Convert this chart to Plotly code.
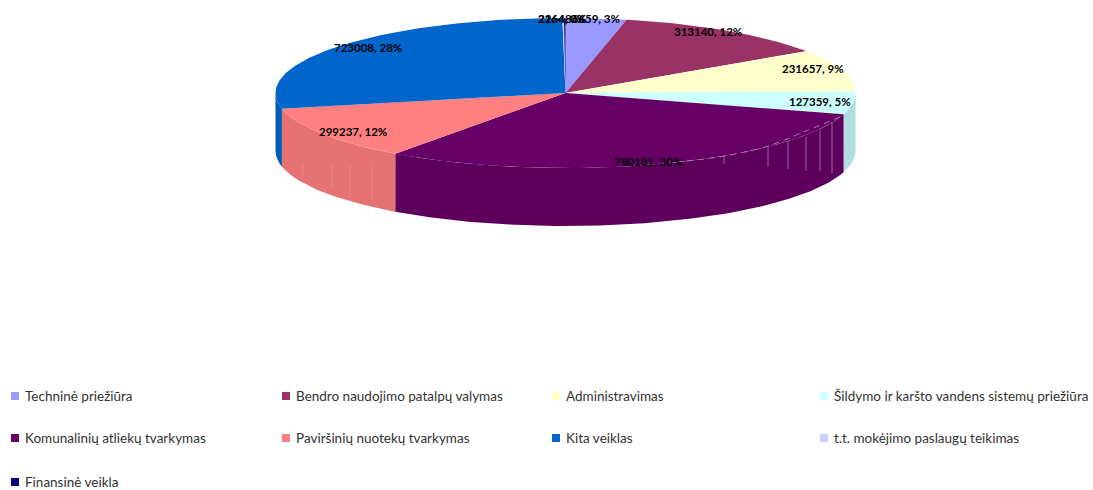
import math
import plotly.graph_objects as go

categories = ["Techninė priežiūra", "Bendro naudojimo patalpų valymas", "Administravimas",
              "Šildymo ir karšto vandens sistemų priežiūra", "Komunalinių atliekų tvarkymas",
              "Paviršinių nuotekų tvarkymas", "Kita veiklas", "t.t. mokėjimo paslaugų teikimas",
              "Finansinė veikla"]
values = [86659, 313140, 231657, 127359, 780181, 299237, 723008, 2264, 2164]
percent_labels = [3, 12, 9, 5, 30, 12, 28, 0, 0]
top_colors = ["#9999ff", "#993366", "#ffffcc", "#ccffff", "#660066", "#ff8080", "#0066cc", "#ccccff", "#000080"]
side_colors = ["#8a8ae6", "#8a2e5c", "#e6e6b8", "#b0dede", "#5c005c", "#e57373", "#005cb8", "#b8b8e6", "#000073"]

# layout (pixels of the 1093x490 page)
CX, CY, RX, RY, DEPTH = 565.5, 93, 290, 75, 58
label_xy = [(592, 18), (708, 31), (813, 68), (820, 101), (648, 161), (353, 131), (368, 47), (562, 18), (562, 18)]
legend_col = [11, 282, 552, 820]
legend_row = [396, 438, 482]
leader_xy = [(687, 161), (725, 156), (768, 146), (806, 131), (840, 117)]
leader_ticks = [(724, 156, 164), (768, 147, 167), (788, 141, 169), (806, 137, 171), (820, 130, 171), (832, 122, 173)]
wall_ticks = [(303, 165, 177), (332, 165, 188), (350, 165, 197), (372, 162, 200)]

def pt(deg, dy=0):
    r = math.radians(deg)
    return CX + RX * math.sin(r), CY - RY * math.cos(r) + dy

def arc(a, b, dy=0):
    n = max(2, int(abs(b - a)) + 2)
    return [pt(a + (b - a) * i / (n - 1), dy) for i in range(n)]

fig = go.Figure()
total = sum(values)
edges = [0.0]
for v in values:
    edges.append(edges[-1] + v / total * 360)

# side walls (front half of the ellipse only)
for i, c in enumerate(categories):
    a, b = max(edges[i], 90), min(edges[i + 1], 270)
    if b <= a:
        continue
    pts = arc(a, b) + arc(b, a, DEPTH)
    fig.add_trace(go.Scatter(x=[p[0] for p in pts], y=[p[1] for p in pts], mode="lines", fill="toself",
                             fillcolor=side_colors[i], line=dict(width=0), hoverinfo="skip", showlegend=False))
# top faces
for i, c in enumerate(categories):
    pts = [(CX, CY)] + arc(edges[i], edges[i + 1]) + [(CX, CY)]
    fig.add_trace(go.Scatter(x=[p[0] for p in pts], y=[p[1] for p in pts], mode="lines", fill="toself",
                             fillcolor=top_colors[i], line=dict(width=0), name=c, showlegend=False,
                             hoveron="fills", text=f"{c}: {values[i]}", hoverinfo="text"))

# faint leader line and ticks over the large slice
fig.add_trace(go.Scatter(x=[p[0] for p in leader_xy], y=[p[1] for p in leader_xy], mode="lines",
                         line=dict(color="#a07aa0", width=1, dash="6px,5px", shape="spline"),
                         hoverinfo="skip", showlegend=False))

annotations = []
shapes = []
for x, y0, y1 in leader_ticks:
    shapes.append(dict(type="line", xref="x", yref="y", x0=x, x1=x, y0=y0, y1=y1,
                       line=dict(color="#8f6a8f", width=1)))
for x, y0, y1 in wall_ticks:
    shapes.append(dict(type="line", xref="x", yref="y", x0=x, x1=x, y0=y0, y1=y1,
                       line=dict(color="#e98582", width=1)))
for i, c in enumerate(categories):
    x, y = label_xy[i]
    annotations.append(dict(x=x, y=y, xref="x", yref="y", text=f"<b>{values[i]}, {percent_labels[i]}%</b>", showarrow=False,
                            font=dict(family="Lato", size=11.5, color="#000000"), xanchor="center", yanchor="middle"))
    lx = legend_col[i % 4]
    ly = legend_row[i // 4]
    shapes.append(dict(type="rect", xref="x", yref="y", x0=lx, x1=lx + 8, y0=ly - 4, y1=ly + 4,
                       fillcolor=top_colors[i], line=dict(width=0)))
    annotations.append(dict(x=lx + 12, y=ly, xref="x", yref="y", text=c, showarrow=False,
                            font=dict(family="Lato", size=13.5, color="#333333"), xanchor="left", yanchor="middle"))

fig.update_layout(width=1093, height=490, margin=dict(l=0, r=0, t=0, b=0), paper_bgcolor="#ffffff",
                  plot_bgcolor="#ffffff", showlegend=False, annotations=annotations, shapes=shapes,
                  xaxis=dict(range=[0, 1093], visible=False, fixedrange=True),
                  yaxis=dict(range=[490, 0], visible=False, fixedrange=True))
fig.write_html("out.html", config=dict(displayModeBar=False),
               post_script="document.body.style.margin='0';document.documentElement.style.overflow='hidden';")
